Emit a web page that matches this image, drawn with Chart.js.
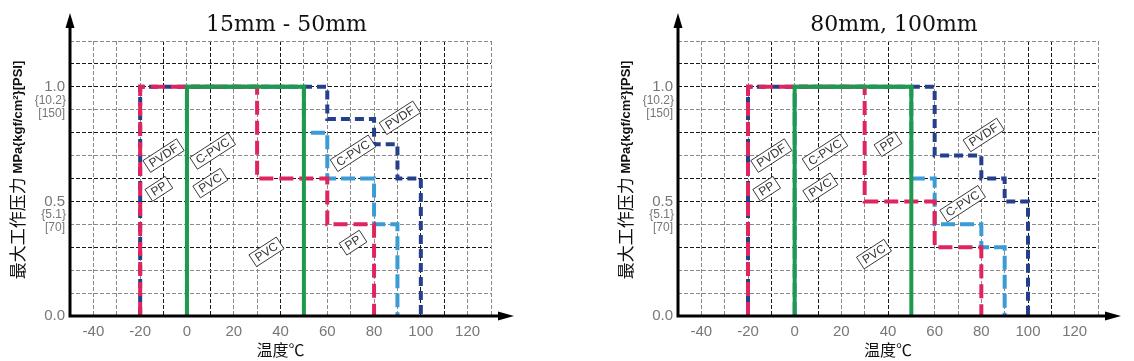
<!DOCTYPE html>
<html>
<head>
<meta charset="utf-8">
<script src="https://cdn.jsdelivr.net/npm/chart.js@4.4.1/dist/chart.umd.min.js"></script>
<style>
  html, body { margin: 0; padding: 0; background: #fff; }
  .panel { position: absolute; top: 0; width: 567px; height: 361px; }
  #panelA { left: 0; }
  #panelB { left: 567px; }
</style>
</head>
<body>
<div class="panel" id="panelA"><canvas id="chartA"></canvas></div>
<div class="panel" id="panelB"><canvas id="chartB"></canvas></div>
<script>
// axis ticks
const xTickLabels = [-40, -20, 0, 20, 40, 60, 80, 100, 120];
const yTickValues = [0, 0.5, 1.0];
const yTickMain = ['0.0', '0.5', '1.0'];
const yTickKgf = ['', '{5.1}', '{10.2}'];
const yTickPsi = ['', '[70]', '[150]'];

// 15mm - 50mm : temperature (°C) / pressure (MPa) step lines
const titleA = '15mm - 50mm';
const pvcTempA = [0, 0, 50, 50];
const pvcPressA = [0, 1.0, 1.0, 0];
const ppTempA = [-20, -20, 30, 30, 60, 60, 80, 80];
const ppPressA = [0, 1.0, 1.0, 0.6, 0.6, 0.4, 0.4, 0];
const cpvcTempA = [0, 0, 50, 50, 60, 60, 80, 80, 90, 90];
const cpvcPressA = [0, 1.0, 1.0, 0.8, 0.8, 0.6, 0.6, 0.4, 0.4, 0];
const pvdfTempA = [-20, -20, 60, 60, 80, 80, 90, 90, 100, 100];
const pvdfPressA = [0, 1.0, 1.0, 0.86, 0.86, 0.75, 0.75, 0.6, 0.6, 0];
const tagTextA = ['PVDF', 'C-PVC', 'PP', 'PVC', 'PVC', 'PVDF', 'C-PVC', 'PP'];
const tagTempA = [-10, 11, -12, 10, 34, 91, 71, 71];
const tagPressA = [0.70, 0.72, 0.555, 0.58, 0.28, 0.865, 0.71, 0.32];

// 80mm, 100mm
const titleB = '80mm, 100mm';
const pvcTempB = [0, 0, 50, 50];
const pvcPressB = [0, 1.0, 1.0, 0];
const ppTempB = [-20, -20, 30, 30, 60, 60, 80, 80];
const ppPressB = [0, 1.0, 1.0, 0.5, 0.5, 0.3, 0.3, 0];
const cpvcTempB = [0, 0, 50, 50, 60, 60, 80, 80, 90, 90];
const cpvcPressB = [0, 1.0, 1.0, 0.6, 0.6, 0.4, 0.4, 0.3, 0.3, 0];
const pvdfTempB = [-20, -20, 60, 60, 80, 80, 90, 90, 100, 100];
const pvdfPressB = [0, 1.0, 1.0, 0.7, 0.7, 0.6, 0.6, 0.5, 0.5, 0];
const tagTextB = ['PVDF', 'C-PVC', 'PP', 'PVC', 'PP', 'PVDF', 'C-PVC', 'PVC'];
const tagTempB = [-10, 13, -12, 11, 40, 81, 72, 34];
const tagPressB = [0.70, 0.714, 0.555, 0.56, 0.75, 0.79, 0.49, 0.27];

// grid lines that came out darker in the print
const darkRows = [3, 5, 6, 8, 10, 11];
const darkCols = [-10, 10, 40, 100, 110];

const styles = {
    'PVC': { color: '#1f9a4c', dash: [] },
    'PP': { color: '#e0245e', dash: [14, 6] },
    'C-PVC': { color: '#3a9cd6', dash: [14, 5] },
    'PVDF': { color: '#243f8c', dash: [9, 5] }
};

const pts = (xs, ys) => xs.map((x, i) => ({ x: x, y: ys[i] }));

const decor = {
    id: 'decor',
    afterDraw(chart, args, opts) {
        const { ctx, chartArea: a, scales: { x, y } } = chart;
        ctx.save();

        // axes + arrows
        ctx.strokeStyle = '#000';
        ctx.fillStyle = '#000';
        ctx.lineWidth = 3;
        ctx.setLineDash([]);
        ctx.beginPath();
        ctx.moveTo(a.left, a.bottom + 1.5);
        ctx.lineTo(a.left, a.top - 14);
        ctx.moveTo(a.left - 1.5, a.bottom);
        ctx.lineTo(a.right + 8, a.bottom);
        ctx.stroke();
        ctx.beginPath();
        ctx.moveTo(a.left, a.top - 28);
        ctx.lineTo(a.left - 4.5, a.top - 13);
        ctx.lineTo(a.left + 4.5, a.top - 13);
        ctx.closePath();
        ctx.fill();
        ctx.beginPath();
        ctx.moveTo(a.right + 23, a.bottom);
        ctx.lineTo(a.right + 7, a.bottom - 4.5);
        ctx.lineTo(a.right + 7, a.bottom + 4.5);
        ctx.closePath();
        ctx.fill();

        // title
        const cx = (a.left + a.right) / 2;
        ctx.font = '22px "DejaVu Serif", serif';
        ctx.textAlign = 'center';
        ctx.textBaseline = 'alphabetic';
        ctx.fillStyle = '#111';
        ctx.fillText(opts.title, cx + 6, 31);

        // y tick labels
        ctx.fillStyle = '#777';
        ctx.textAlign = 'right';
        ctx.textBaseline = 'middle';
        yTickValues.forEach((v, i) => {
            const py = y.getPixelForValue(v);
            ctx.font = '15px "Liberation Sans", sans-serif';
            ctx.fillText(yTickMain[i], a.left - 5, py);
            ctx.font = '12px "Liberation Sans", sans-serif';
            if (yTickKgf[i]) ctx.fillText(yTickKgf[i], a.left - 4, py + 13.5);
            if (yTickPsi[i]) ctx.fillText(yTickPsi[i], a.left - 5, py + 26.5);
        });

        // y axis title (rotated)
        ctx.save();
        ctx.translate(a.left - 52, 170);
        ctx.rotate(-Math.PI / 2);
        ctx.fillStyle = '#111';
        ctx.textAlign = 'left';
        ctx.textBaseline = 'middle';
        const cjkFont = '17px "Noto Sans CJK SC", sans-serif';
        const latFont = 'bold 13px "Liberation Sans Narrow", "Liberation Sans", sans-serif';
        const cjkText = '最大工作压力 ';
        const latText = 'MPa{kgf/cm²}[PSI]';
        ctx.font = cjkFont;
        const w1 = ctx.measureText(cjkText).width;
        ctx.font = latFont;
        const w2 = ctx.measureText(latText).width;
        let sx = -(w1 + w2) / 2;
        ctx.font = cjkFont;
        ctx.fillText(cjkText, sx, 0);
        ctx.font = latFont;
        ctx.fillText(latText, sx + w1, 0);
        ctx.restore();

        // x axis title
        ctx.font = '16px "Noto Sans CJK SC", sans-serif';
        ctx.fillStyle = '#111';
        ctx.textAlign = 'center';
        ctx.textBaseline = 'middle';
        ctx.fillText('温度℃', cx, 350);

        // material tags
        ctx.font = '12px "Liberation Sans", sans-serif';
        opts.tagText.forEach((t, i) => {
            const px = x.getPixelForValue(opts.tagTemp[i]);
            const py = y.getPixelForValue(opts.tagPress[i]);
            const w = ctx.measureText(t).width + 8;
            const h = 14;
            ctx.save();
            ctx.translate(px, py);
            ctx.rotate(-33 * Math.PI / 180);
            ctx.fillStyle = '#fff';
            ctx.fillRect(-w / 2, -h / 2, w, h);
            ctx.strokeStyle = '#222';
            ctx.lineWidth = 0.8;
            ctx.strokeRect(-w / 2, -h / 2, w, h);
            ctx.fillStyle = '#333';
            ctx.textAlign = 'center';
            ctx.textBaseline = 'middle';
            ctx.fillText(t, 0, 0.5);
            ctx.restore();
        });

        ctx.restore();
    }
};

function makeChart(id, title, series, tags, axisW, padRight) {
    const datasets = series.map(s => ({
        label: s.name,
        data: pts(s.x, s.y),
        borderColor: styles[s.name].color,
        borderDash: styles[s.name].dash,
        borderWidth: 4,
        borderCapStyle: 'butt',
        borderJoinStyle: 'miter',
        pointRadius: 0,
        fill: false,
        tension: 0
    }));

    return new Chart(document.getElementById(id), {
        type: 'line',
        data: { datasets: datasets },
        options: {
            responsive: true,
            maintainAspectRatio: false,
            animation: false,
            layout: { padding: { top: 41, right: padRight, left: 0, bottom: 0 } },
            plugins: {
                legend: { display: false },
                tooltip: { enabled: false },
                decor: { title: title, tagText: tags[0], tagTemp: tags[1], tagPress: tags[2] }
            },
            scales: {
                x: {
                    type: 'linear',
                    min: -50,
                    max: 130,
                    border: { display: false, dash: [4, 2] },
                    grid: {
                        drawTicks: false,
                        lineWidth: 1,
                        color: c => darkCols.includes(Math.round(c.tick.value)) ? '#1a1a1a' : '#8a8a8a'
                    },
                    ticks: {
                        stepSize: 10,
                        autoSkip: false,
                        maxRotation: 0,
                        padding: 7,
                        color: '#777',
                        font: { family: 'Liberation Sans', size: 15 },
                        callback: v => xTickLabels.includes(v) ? String(v) : ''
                    },
                    afterFit: s => { s.height = 45; }
                },
                y: {
                    min: 0,
                    max: 1.2,
                    border: { display: false, dash: [4, 2] },
                    grid: {
                        drawTicks: false,
                        lineWidth: 1,
                        color: c => darkRows.includes(Math.round(c.tick.value * 10)) ? '#1a1a1a' : '#8a8a8a'
                    },
                    ticks: { stepSize: 0.1, display: false },
                    afterFit: s => { s.width = axisW; }
                }
            }
        },
        plugins: [decor]
    });
}

// first dataset is drawn on top
makeChart('chartA', titleA, [
    { name: 'PVC', x: pvcTempA, y: pvcPressA },
    { name: 'PP', x: ppTempA, y: ppPressA },
    { name: 'C-PVC', x: cpvcTempA, y: cpvcPressA },
    { name: 'PVDF', x: pvdfTempA, y: pvdfPressA }
], [tagTextA, tagTempA, tagPressA], 70, 76);

makeChart('chartB', titleB, [
    { name: 'PVC', x: pvcTempB, y: pvcPressB },
    { name: 'PP', x: ppTempB, y: ppPressB },
    { name: 'C-PVC', x: cpvcTempB, y: cpvcPressB },
    { name: 'PVDF', x: pvdfTempB, y: pvdfPressB }
], [tagTextB, tagTempB, tagPressB], 111, 36);
</script>
</body>
</html>
